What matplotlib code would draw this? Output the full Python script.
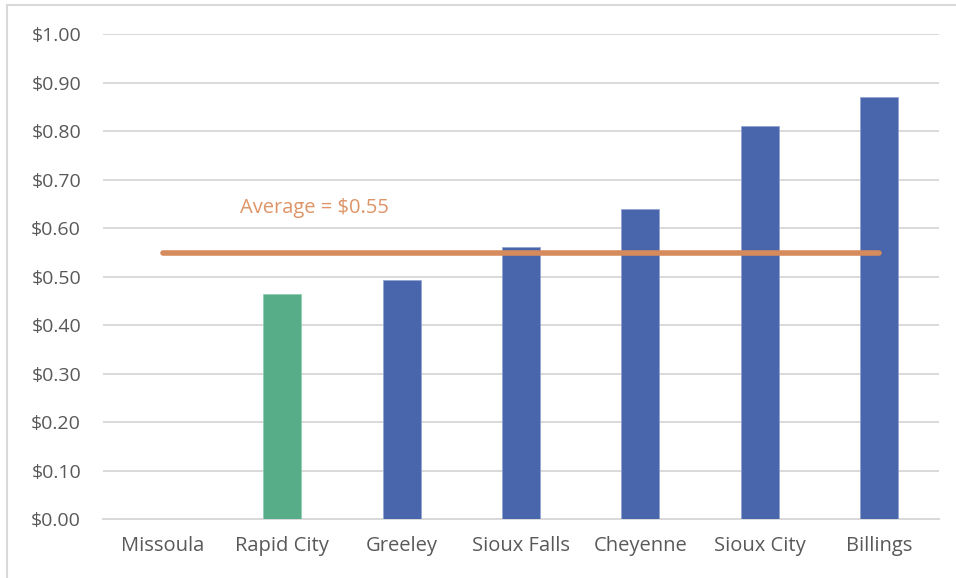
import matplotlib
matplotlib.use("Agg")
import matplotlib.pyplot as plt
from matplotlib.patches import Rectangle
from matplotlib.ticker import FuncFormatter, MultipleLocator

# average price per city
cities = ["Missoula", "Rapid City", "Greeley", "Sioux Falls", "Cheyenne", "Sioux City", "Billings"]
prices = [0.0, 0.465, 0.493, 0.561, 0.640, 0.810, 0.870]
highlight = "Rapid City"

BLUE = "#4966AD"
BLUE_EDGE = "#8FA2D2"
GREEN = "#57AD87"
GREEN_EDGE = "#8CCBAE"
ORANGE = "#D68B5C"
LABEL_ORANGE = "#DE9466"
GRID = "#D9D9D9"
TEXT = "#595959"

plt.rcParams["font.family"] = ["Open Sans", "DejaVu Sans"]

avg = round(sum(prices) / len(prices), 2)

fig = plt.figure(figsize=(9.56, 5.78), dpi=100)
ax = fig.add_axes([0.1081, 0.1016, 0.8738, 0.8391])

# thin outer frame (left and top edges show)
fig.patches.append(Rectangle((7 / 956, -0.1), 1.2, 0.1 + (578 - 5) / 578,
                             transform=fig.transFigure, fill=False,
                             edgecolor=GRID, linewidth=1.5))

x = list(range(len(cities)))
colors = [GREEN if c == highlight else BLUE for c in cities]
edges = [GREEN_EDGE if c == highlight else BLUE_EDGE for c in cities]
ax.bar(x, prices, width=0.32, color=colors, edgecolor=edges, linewidth=0.5, zorder=2)

# average line across all categories
ax.plot([x[0], x[-1]], [avg, avg], color=ORANGE, linewidth=4, solid_capstyle="round", zorder=3)
ax.text(1.27, 0.642, f"Average = ${avg:.2f}", color=LABEL_ORANGE, fontsize=14.5,
        ha="center", va="center", zorder=4,
        bbox=dict(facecolor="white", edgecolor="none", pad=6))

ax.set_xlim(-0.5, len(cities) - 0.5)
ax.set_ylim(0, 1.0)
ax.yaxis.set_major_locator(MultipleLocator(0.1))
ax.yaxis.set_major_formatter(FuncFormatter(lambda v, _: f"${v:.2f}"))
ax.set_xticks(x)
ax.set_xticklabels(cities)

ax.grid(axis="y", color=GRID, linewidth=1.4, zorder=0)
ax.set_axisbelow(True)
for side in ["top", "right", "left"]:
    ax.spines[side].set_visible(False)
ax.spines["bottom"].set_color(GRID)
ax.spines["bottom"].set_linewidth(1.4)
ax.spines["bottom"].set_zorder(1)

ax.tick_params(axis="y", length=0, pad=16, labelsize=14, labelcolor=TEXT)
ax.tick_params(axis="x", length=0, pad=12, labelsize=14.5, labelcolor=TEXT)

fig.savefig("out.png", dpi=100)
plt.close(fig)
